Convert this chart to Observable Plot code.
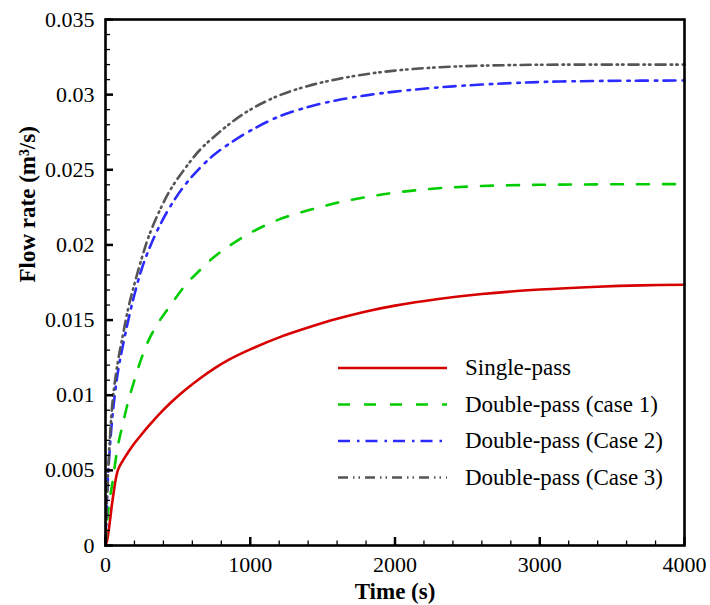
<!DOCTYPE html>
<html>
<head>
<meta charset="utf-8">
<script src="https://cdn.jsdelivr.net/npm/d3@7"></script>
<script src="https://cdn.jsdelivr.net/npm/@observablehq/plot@0.6"></script>
<style>
  html, body { margin: 0; padding: 0; background: #fff; }
  #chart { width: 710px; height: 605px; }
  #chart svg, #chart svg text { font-family: "Liberation Serif", "Times New Roman", Times, serif; }
</style>
</head>
<body>
<div id="chart"></div>
<script>
// Sample times (s)
const time = [0, 10, 25, 50, 85, 120, 160, 200, 250, 300, 370, 450, 550, 650, 750, 850,
  1000, 1200, 1400, 1600, 1800, 2000, 2300, 2600, 3000, 3400, 3700, 4000];

// Flow rate (m^3/s) for each configuration
const singlePass = [0, 0.0003, 0.0012, 0.0031, 0.005, 0.00565, 0.00625, 0.0068, 0.0074, 0.00797,
  0.00873, 0.0095, 0.01035, 0.0111, 0.01177, 0.01235, 0.01305, 0.01385, 0.0145, 0.01508, 0.01557,
  0.01596, 0.0164, 0.01673, 0.01703, 0.01722, 0.01731, 0.01735];
const doubleCase1 = [0, 0.0015, 0.0028, 0.0043, 0.0066, 0.0081, 0.0097, 0.011, 0.0125, 0.0137,
  0.0149, 0.016, 0.0173, 0.0183, 0.0192, 0.0199, 0.0208, 0.0217, 0.0223, 0.0228, 0.02318,
  0.02348, 0.02377, 0.02392, 0.024, 0.02403, 0.02404, 0.02405];
const doubleCase2 = [0, 0.003, 0.0058, 0.0088, 0.0115, 0.0133, 0.0151, 0.0167, 0.0184, 0.0197,
  0.0212, 0.0226, 0.024, 0.0251, 0.026, 0.0267, 0.0276, 0.02855, 0.02918, 0.02963, 0.02995,
  0.0302, 0.03048, 0.03067, 0.03084, 0.03091, 0.03093, 0.03094];
const doubleCase3 = [0, 0.003, 0.0062, 0.0097, 0.0122, 0.014, 0.0159, 0.0174, 0.0191, 0.0206,
  0.0222, 0.0237, 0.0251, 0.0263, 0.0272, 0.028, 0.029, 0.02995, 0.03058, 0.03103, 0.03136,
  0.0316, 0.03182, 0.03193, 0.03199, 0.032, 0.032, 0.032];

const seriesNames = ["Single-pass", "Double-pass (case 1)", "Double-pass (Case 2)", "Double-pass (Case 3)"];
const seriesValues = [singlePass, doubleCase1, doubleCase2, doubleCase3];
const seriesColors = ["#d60000", "#00cc00", "#2b2bff", "#555555"];
const seriesDash = [null, "12,14", "12,7,2.5,6", "10,5,1.5,4,1.5,5"];

// Axis ticks
const xMajor = [0, 1000, 2000, 3000, 4000];
const xMinor = d3.range(0, 4001, 200).filter(v => v % 1000 !== 0);
const yMajor = [0, 0.005, 0.01, 0.015, 0.02, 0.025, 0.03, 0.035];
const yMinor = d3.range(1, 35).filter(i => i % 5 !== 0).map(i => i / 1000);

const W = 710, H = 605;
const mL = 105, mR = 26, mT = 19, mB = 60;
const plotW = W - mL - mR, plotH = H - mT - mB;
const FONT = "Liberation Serif, Times New Roman, Times, serif";

const rows = seriesValues.map(vals => time.map((t, i) => ({t, q: vals[i]})));

const lineMarks = rows.map((data, k) => Plot.line(data, {
  x: "t", y: "q",
  stroke: seriesColors[k],
  strokeWidth: 2.6,
  strokeDasharray: seriesDash[k],
  curve: "catmull-rom"
}));

const svg = Plot.plot({
  width: W, height: H,
  marginLeft: mL, marginRight: mR, marginTop: mT, marginBottom: mB,
  style: {fontFamily: FONT, fontSize: "22px", color: "black", background: "white"},
  x: {domain: [0, 4000], axis: null},
  y: {domain: [0, 0.035], axis: null},
  marks: [
    ...lineMarks,
    // inward ticks on the bottom and left edges
    Plot.tickX(xMinor, {x: d => d, insetTop: plotH - 4.5, stroke: "black", strokeWidth: 1.3}),
    Plot.tickX(xMajor, {x: d => d, insetTop: plotH - 8, stroke: "black", strokeWidth: 2.5}),
    Plot.tickY(yMinor, {y: d => d, insetRight: plotW - 5, stroke: "black", strokeWidth: 1.3}),
    Plot.tickY(yMajor, {y: d => d, insetRight: plotW - 8, stroke: "black", strokeWidth: 2.5}),
    Plot.axisX(xMajor, {tickSize: 0, tickPadding: 11, tickFormat: d => String(d), fontSize: 22, label: null}),
    Plot.axisY(yMajor, {tickSize: 0, tickPadding: 11, tickFormat: d => String(+d.toFixed(3)), fontSize: 22, label: null}),
    Plot.frame({stroke: "black", strokeWidth: 2.6}),
    Plot.text(["Time (s)"], {frameAnchor: "bottom", dy: 46, lineAnchor: "middle",
      fontWeight: "bold", fontSize: 23, fill: "black"}),
    Plot.text(["Flow rate (m³/s)"], {frameAnchor: "left", dx: -78, rotate: -90, lineAnchor: "middle",
      fontWeight: "bold", fontSize: 23, fill: "black"})
  ]
});

// Legend inside the plotting area
const legend = d3.select(svg).append("g").attr("class", "legend");
const lx0 = 338, lx1 = 447, tx = 465, ly0 = 368, lstep = 36.5;
seriesNames.forEach((name, k) => {
  const y = ly0 + k * lstep;
  legend.append("line")
    .attr("x1", lx0).attr("x2", lx1).attr("y1", y).attr("y2", y)
    .attr("stroke", seriesColors[k]).attr("stroke-width", 2.6)
    .attr("stroke-dasharray", seriesDash[k]);
  legend.append("text")
    .attr("x", tx).attr("y", y).attr("dy", "0.32em")
    .attr("text-anchor", "start")
    .attr("font-family", FONT).attr("font-size", 23).attr("fill", "black")
    .text(name);
});

document.getElementById("chart").appendChild(svg);
</script>
</body>
</html>
